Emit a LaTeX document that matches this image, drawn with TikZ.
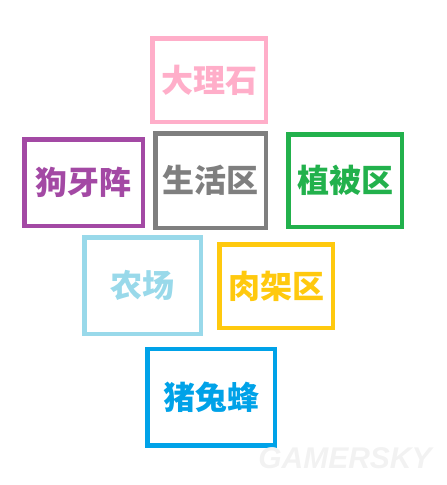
\documentclass[tikz,border=0pt]{standalone}
\usepackage{fontspec}
\newfontfamily\cjk{Noto Sans CJK SC}
\setsansfont{Liberation Sans}
\usetikzlibrary{positioning}
\definecolor{paintpink}{RGB}{255,174,201}
\definecolor{paintpurple}{RGB}{163,73,164}
\definecolor{paintgray}{RGB}{127,127,127}
\definecolor{paintgreen}{RGB}{34,177,76}
\definecolor{paintcyan}{RGB}{153,217,234}
\definecolor{paintgold}{RGB}{255,201,14}
\definecolor{paintblue}{RGB}{0,162,232}
\begin{document}
\begin{tikzpicture}[x=1pt,y=-1pt]
			\tikzset{zone/.style={draw=#1,text=#1,line width=4.5pt,inner sep=0pt,font=\cjk\bfseries\fontsize{32}{32}\selectfont}}
			\useasboundingbox (0,0) rectangle (447,485);
			% Place Nodes
			\node[zone=paintpink,minimum width=113.5pt,minimum height=83.5pt] (DALI) at (209,80) {大理石};
			\node[zone=paintpurple,minimum width=118.5pt,minimum height=86.5pt] (GOUYA) at (83.5,182.5) {狗牙阵};
			\node[zone=paintgray,minimum width=110.5pt,minimum height=94.5pt] (SHENG) at (210.5,180.5) {生活区};
			\node[zone=paintgreen,minimum width=113.5pt,minimum height=92.5pt] (ZHIBEI) at (345,180.5) {植被区};
			\node[zone=paintcyan,minimum width=116.5pt,minimum height=96.5pt] (NONG) at (142.5,285.5) {农场\hspace{16pt}};
			\node[zone=paintgold,minimum width=113.5pt,minimum height=83.5pt] (ROUJIA) at (276,286) {肉架区};
			\node[zone=paintblue,minimum width=127.5pt,minimum height=96.5pt] (ZHUTU) at (211,397) {猪兔蜂};
			% Watermark
			\node[text=gray!10,draw=none,font=\sffamily\bfseries\itshape\fontsize{30}{30}\selectfont] (MARK) at (345,458.5) {GAMERSKY};
\end{tikzpicture}
\end{document}
